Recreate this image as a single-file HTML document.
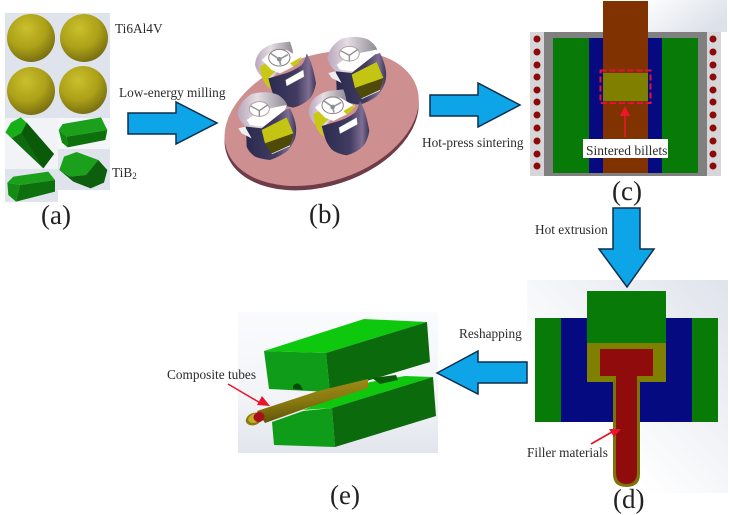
<!DOCTYPE html>
<html><head><meta charset="utf-8">
<style>
html,body{margin:0;padding:0;background:#fff;width:730px;height:515px;overflow:hidden}
svg{display:block}
text{font-family:"Liberation Serif",serif;fill:#2b2b2b;font-size:13.3px}
text.big{font-size:27px;fill:#222}
</style></head><body>
<svg width="730" height="515" viewBox="0 0 730 515" xmlns="http://www.w3.org/2000/svg">
<defs>
<radialGradient id="sph" cx="40%" cy="30%" r="75%"><stop offset="0" stop-color="#cabf2c"/><stop offset=".55" stop-color="#aca118"/><stop offset="1" stop-color="#726810"/></radialGradient>
<linearGradient id="bgc" x1="0" y1="0" x2="1" y2=".5"><stop offset="0" stop-color="#fff"/><stop offset="1" stop-color="#dde2ea"/></linearGradient>
<linearGradient id="bgd" x1="0" y1="1" x2="1" y2="0"><stop offset=".3" stop-color="#fff"/><stop offset="1" stop-color="#dfe3eb"/></linearGradient>
<linearGradient id="bge" x1="0" y1="0" x2="0" y2="1"><stop offset="0" stop-color="#fafbfd"/><stop offset=".6" stop-color="#f2f4f8"/><stop offset="1" stop-color="#e2e5ec"/></linearGradient>
<linearGradient id="body" x1="0" y1="0" x2="1" y2="0"><stop offset="0" stop-color="#2a2a4e"/><stop offset=".6" stop-color="#423c62"/><stop offset=".85" stop-color="#7e6e92"/><stop offset="1" stop-color="#3b3558"/></linearGradient>
<linearGradient id="rim" x1="0" y1="0" x2="1" y2="0"><stop offset="0" stop-color="#b9a6bc"/><stop offset=".4" stop-color="#e4dee4"/><stop offset="1" stop-color="#8f8a92"/></linearGradient>
<linearGradient id="tube" x1="0" y1="0" x2=".25" y2="1"><stop offset="0" stop-color="#a8941c"/><stop offset=".55" stop-color="#8a7a10"/><stop offset="1" stop-color="#5c5208"/></linearGradient>
<g id="cup1">
<path d="M135,135 Q138,85 195,70 L240,65 Q250,90 250,110 L175,185 Q145,170 135,135 Z" fill="url(#rim)"/>
<path d="M150,140 L175,125 L195,155 L175,175 L182,208 Q155,190 150,140 Z" fill="#c9c814"/>
<path d="M155,120 L190,90 L230,90 L275,115 L250,140 L210,160 L185,150 Z" fill="#fff"/>
<path d="M240,130 L275,110 L265,130 L250,140 Z" fill="#c9c814"/>
<ellipse cx="208" cy="113" rx="32" ry="25" fill="#fff" stroke="#8a8088" stroke-width="3"/>
<path d="M182,100 L208,118 L234,104 M208,118 L212,135" stroke="#9a9a9a" stroke-width="5" fill="none"/>
<circle cx="208" cy="118" r="7" fill="#8d8d98"/>
<path d="M175,175 L210,165 Q250,155 275,135 Q286,120 290,100 Q308,130 318,190 Q312,222 300,235 Q280,255 250,263 Q220,258 205,245 Q190,228 185,210 Z" fill="url(#body)"/>
<path d="M227,180 L280,150 L282,170 L230,198 Z" fill="#fff" stroke="#c8c4b0"/>
</g>
<g id="cup2">
<path d="M82,280 Q88,245 125,222 Q170,210 205,225 Q225,238 232,255 L160,325 L108,320 Q88,305 82,280 Z" fill="url(#rim)"/>
<path d="M110,300 L155,270 L230,255 L225,270 L160,320 L120,315 Z" fill="#fff"/>
<ellipse cx="148" cy="267" rx="30" ry="22" fill="#fff" stroke="#b5a5a5" stroke-width="3"/>
<path d="M122,258 L148,272 L174,254 M148,272 L148,290" stroke="#8f8f8f" stroke-width="4" fill="none"/>
<path d="M108,320 L155,325 L225,270 L240,265 Q255,295 258,320 Q260,340 255,355 Q245,380 230,395 Q205,412 180,420 Q155,418 135,410 Q115,395 110,380 Z" fill="url(#body)"/>
<path d="M155,330 L230,292 L250,340 L165,370 Z" fill="#c4c412"/>
<path d="M165,370 L250,340 Q246,362 240,375 L185,402 Z" fill="#4f4a08"/>
<path d="M185,402 L240,377" stroke="#fff" stroke-width="2"/>
<path d="M85,325 L105,320 L125,355 L95,340 Z" fill="#eee"/>
</g>
</defs>

<!-- (a) -->
<rect x="5" y="13" width="105" height="105" fill="#dfe3ec"/>
<rect x="5" y="118" width="53" height="51" fill="#f1f3f7"/>
<rect x="58" y="118" width="52" height="31" fill="#f4f6f9"/>
<rect x="5" y="169" width="53" height="33" fill="#dfe3ec"/>
<rect x="58" y="149" width="52" height="41" fill="#dfe3ec"/>
<circle cx="31" cy="38" r="24" fill="url(#sph)"/>
<circle cx="84" cy="38" r="24" fill="url(#sph)"/>
<circle cx="31" cy="91" r="24" fill="url(#sph)"/>
<circle cx="83" cy="90" r="24" fill="url(#sph)"/>
<g transform="scale(.3333)">
<path d="M16,397 L33,368 L62,352 L80,368 L65,398 L36,414 Z" fill="#18b018"/>
<path d="M16,397 L36,414 L65,398 L80,368 L162,462 L130,505 Z" fill="#0d6a0d"/>
<path d="M65,398 L80,368 L162,462 L130,505 Z" fill="#0a5a0a"/>
<path d="M176,390 L188,372 L303,352 L322,390 L200,410 Z" fill="#1ca01c"/>
<path d="M176,390 L200,410 L203,442 L186,428 Z" fill="#0d8a0d"/>
<path d="M200,410 L322,390 L316,420 L203,442 Z" fill="#0d700d"/>
<path d="M178,510 L192,470 L230,456 L295,480 L258,525 L210,530 Z" fill="#1aa01a"/>
<path d="M258,525 L295,480 L322,510 L312,548 L272,565 L220,545 L178,510 L210,530 Z" fill="#0d5f0d"/>
<path d="M22,548 L40,530 L145,515 L165,540 L60,555 Z" fill="#1ca01c"/>
<path d="M22,548 L60,555 L48,605 L25,585 Z" fill="#128c12"/>
<path d="M60,555 L165,540 L165,575 L48,605 Z" fill="#0d700d"/>
</g>
<text x="115" y="33">Ti6Al4V</text>
<text x="119" y="97">Low-energy milling</text>
<text x="112" y="177">TiB<tspan font-size="9" dy="2">2</tspan></text>
<text class="big" x="41" y="224">(a)</text>

<!-- (b) -->
<g transform="translate(210,20) scale(.3333)">
<ellipse cx="335" cy="308" rx="300" ry="190" transform="rotate(-18 335 308)" fill="#6d3c48"/>
<ellipse cx="335" cy="295" rx="300" ry="190" transform="rotate(-18 335 295)" fill="#cd8f8f"/>
<use href="#cup1"/>
<use href="#cup2" x="270" y="-166"/>
<use href="#cup2"/>
<use href="#cup1" x="160" y="143"/>
</g>
<text class="big" x="309" y="223">(b)</text>

<!-- (c) -->
<rect x="640" y="0" width="87" height="32" fill="url(#bgc)"/>
<rect x="530" y="32" width="191" height="144" fill="#d6d6d8"/>
<rect x="544" y="32" width="163" height="144" fill="#808080"/>
<rect x="553" y="38" width="145" height="135" fill="#087a08"/>
<rect x="589" y="38" width="73" height="135" fill="#050a80"/>
<rect x="603" y="1" width="45" height="172" fill="#803300"/>
<rect x="603" y="73" width="45" height="28" fill="#808000"/>
<rect x="600.5" y="70.5" width="50" height="32.5" fill="none" stroke="#e0123c" stroke-width="2" stroke-dasharray="6 3"/>
<g fill="#8b0b0b">
<circle cx="537" cy="39" r="3.5"/><circle cx="537" cy="52" r="3.5"/><circle cx="537" cy="65" r="3.5"/><circle cx="537" cy="77" r="3.5"/><circle cx="537" cy="90" r="3.5"/><circle cx="537" cy="102" r="3.5"/><circle cx="537" cy="115" r="3.5"/><circle cx="537" cy="128" r="3.5"/><circle cx="537" cy="141" r="3.5"/><circle cx="537" cy="154" r="3.5"/><circle cx="537" cy="166" r="3.5"/>
<circle cx="713" cy="39" r="3.5"/><circle cx="713" cy="52" r="3.5"/><circle cx="713" cy="65" r="3.5"/><circle cx="713" cy="77" r="3.5"/><circle cx="713" cy="90" r="3.5"/><circle cx="713" cy="102" r="3.5"/><circle cx="713" cy="115" r="3.5"/><circle cx="713" cy="128" r="3.5"/><circle cx="713" cy="141" r="3.5"/><circle cx="713" cy="154" r="3.5"/><circle cx="713" cy="166" r="3.5"/>
</g>
<path d="M625,137 L625,115" stroke="#f0142c" stroke-width="1.5"/>
<polygon points="625,106 620,116 630,116" fill="#f0142c"/>
<rect x="583" y="139" width="85" height="19" fill="#fff"/>
<text x="586" y="155" style="font-size:13.5px">Sintered billets</text>
<text x="422" y="147">Hot-press sintering</text>
<text class="big" x="612" y="200">(c)</text>
<text x="535" y="234">Hot extrusion</text>

<!-- (d) -->
<rect x="527" y="280" width="201" height="213" fill="url(#bgd)"/>
<rect x="535" y="318" width="183" height="104" fill="#087a08"/>
<rect x="561" y="318" width="131" height="104" fill="#050a80"/>
<rect x="587" y="291" width="79" height="52" fill="#087a08"/>
<rect x="587" y="343" width="79" height="39" fill="#808000"/>
<path d="M613,380 L640,380 L640,474 Q640,487 626.500,487 Q613,487 613,474 Z" fill="#7d7408"/>
<rect x="600" y="349" width="53" height="27" fill="#900b0b"/>
<path d="M616,376 L637,376 L637,472 Q637,484 626.500,484 Q616,484 616,472 Z" fill="#900b0b"/>
<path d="M591,444 L612,432" stroke="#e8142c" stroke-width="1.800"/>
<polygon points="621,429 609,429 614,437" fill="#e8142c"/>
<text x="527" y="457">Filler materials</text>
<text class="big" x="613" y="508">(d)</text>

<!-- (e) -->
<rect x="238" y="312" width="200" height="141" fill="url(#bge)"/>
<polygon points="264,351 364,319 427,322 326,353" fill="#0ec80e"/>
<polygon points="264,351 326,353 330,392 269,389" fill="#0f9c18"/>
<polygon points="326,353 427,322 430,362 330,392" fill="#0b6a0b"/>
<path d="M293,386 Q297,381 301,386 L303,390 L293,389 Z" fill="#0a4a0a"/>
<polygon points="272,422 303,411 332,408 335,447 274,445" fill="#0f9c18"/>
<polygon points="303,410 370,382 405,376 433,377 332,408" fill="#0ec80e"/>
<polygon points="372,378 396,375 398,380 380,384" fill="#0a5a0a"/>
<polygon points="332,408 433,377 436,416 335,447" fill="#0b6a0b"/>
<polygon points="257,411 318,391 368,379 368,388 307,408 265,423" fill="url(#tube)"/>
<ellipse cx="254" cy="419" rx="8.500" ry="6" transform="rotate(-22 254 419)" fill="#8a7a10"/>
<ellipse cx="255" cy="418" rx="7" ry="4.500" transform="rotate(-22 255 418)" fill="#c2b020"/>
<ellipse cx="259" cy="417" rx="5.500" ry="5" transform="rotate(-22 259 417)" fill="#a8101c"/>
<path d="M228,384 L262,404" stroke="#e8142c" stroke-width="1.500"/>
<polygon points="270,406 257,405 262,396" fill="#e8142c"/>
<text x="167" y="379">Composite tubes</text>
<text x="459" y="338">Reshapping</text>
<text class="big" x="330" y="504">(e)</text>

<!-- arrows -->
<g fill="#0ea5e8" stroke="#0b2f4e" stroke-width="1.500">
<polygon points="128,113 176,113 176,102 217,123 176,144 176,134 128,134"/>
<polygon points="430,95 478,95 478,83 520,105 478,127 478,116 430,116"/>
<polygon points="613,208 640,208 640,249 654,249 627,287 599,249 613,249"/>
<polygon points="437,373 478,351 478,362 527,362 527,383 478,383 478,394"/>
</g>
</svg>
</body></html>
